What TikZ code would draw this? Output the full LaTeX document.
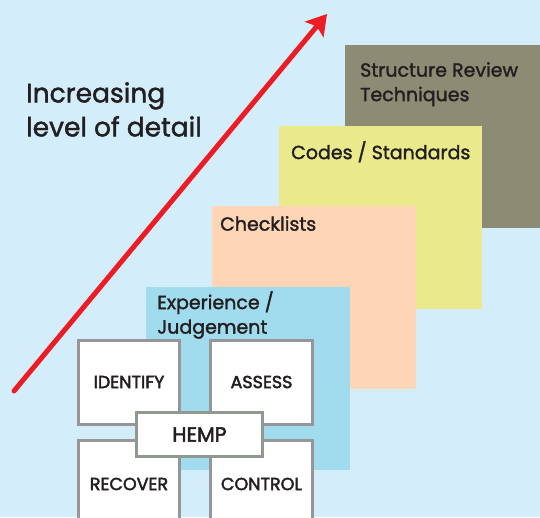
\documentclass[tikz,border=0pt]{standalone}
\usepackage{fontspec}
\setmainfont{Poppins}
\newfontfamily\moyen{Poppins}[FakeBold=1.6]
\newfontfamily\gras{Poppins}[FakeBold=2.4]
\usetikzlibrary{arrows.meta}
\usetikzlibrary{positioning}
\definecolor{fond}{RGB}{211,238,250}
\definecolor{revue}{RGB}{140,140,116}
\definecolor{codes}{RGB}{234,233,140}
\definecolor{listes}{RGB}{254,213,181}
\definecolor{vecu}{RGB}{160,219,238}
\definecolor{rouge}{RGB}{237,28,36}
\definecolor{cadre}{RGB}{150,150,154}
\definecolor{cadrehemp}{RGB}{143,153,143}
\definecolor{texte}{RGB}{35,31,32}
\tikzset{
  niveau/.style={inner sep=0pt, anchor=north west, minimum width=204pt, minimum height=183pt},
  etiquette/.style={inner sep=0pt, text=texte, align=left, font=\moyen\fontsize{19}{24.5}\selectfont},
  etape/.style={draw=cadre, line width=3pt, fill=white, inner sep=0pt, minimum width=101pt, minimum height=84pt, text=texte, font=\gras\fontsize{17.5}{20}\selectfont},
  fleche/.style={rouge, line width=5pt, line cap=round, -{Stealth[length=20pt,width=24pt,inset=4pt]}}
}
\begin{document}
\begin{tikzpicture}[x=1pt,y=-1pt]
%					Fond :
					\fill[fond] (0,0) rectangle (540,517);
					\useasboundingbox (0,0) rectangle (540,517);
					\clip (0,0) rectangle (540,517);
%					Niveaux de detail :
					\node[niveau, fill=revue, minimum width=210pt] (revue) at (345,45) {};
					\node[niveau, fill=codes, minimum width=203pt] (codes) at (279,126) {};
					\node[niveau, fill=listes] (listes) at (212,206) {};
					\node[niveau, fill=vecu] (vecu) at (146,287) {};
					\node[etiquette, anchor=north west] (trevue) at ([xshift=15pt,yshift=-17pt]revue.north west) {Structure Review\\Techniques};
					\node[etiquette, anchor=north west] (tcodes) at ([xshift=12pt,yshift=-15pt]codes.north west) {Codes / Standards};
					\node[etiquette, anchor=north west] (tlistes) at ([xshift=8pt,yshift=-10pt]listes.north west) {Checklists};
					\node[etiquette, anchor=north west] (tvecu) at ([xshift=11pt,yshift=-4pt]vecu.north west) {Experience /\\Judgement};
%					Fleche :
					\coordinate (depart) at (14,391);
					\coordinate (pointe) at (327,14);
					\draw[fleche] (depart) -- (pointe);
					\node[etiquette, anchor=north west, font=\moyen\fontsize{26.5}{34}\selectfont] (titre) at (26,82) {Increasing\\level of detail};
%					Cycle HEMP :
					\node[etape] (identify) at (129,382) {IDENTIFY};
					\node[etape, minimum width=102pt] (assess) at (261.5,382) {ASSESS};
					\node[etape, minimum height=87pt] (recover) at (129,484) {RECOVER};
					\node[etape, minimum width=102pt, minimum height=87pt] (control) at (261.5,484) {CONTROL};
					\node[etape, draw=cadrehemp, minimum width=126pt, minimum height=44pt, font=\gras\fontsize{20.5}{22}\selectfont] (hemp) at (199.5,434.5) {HEMP};
				\end{tikzpicture}
\end{document}
